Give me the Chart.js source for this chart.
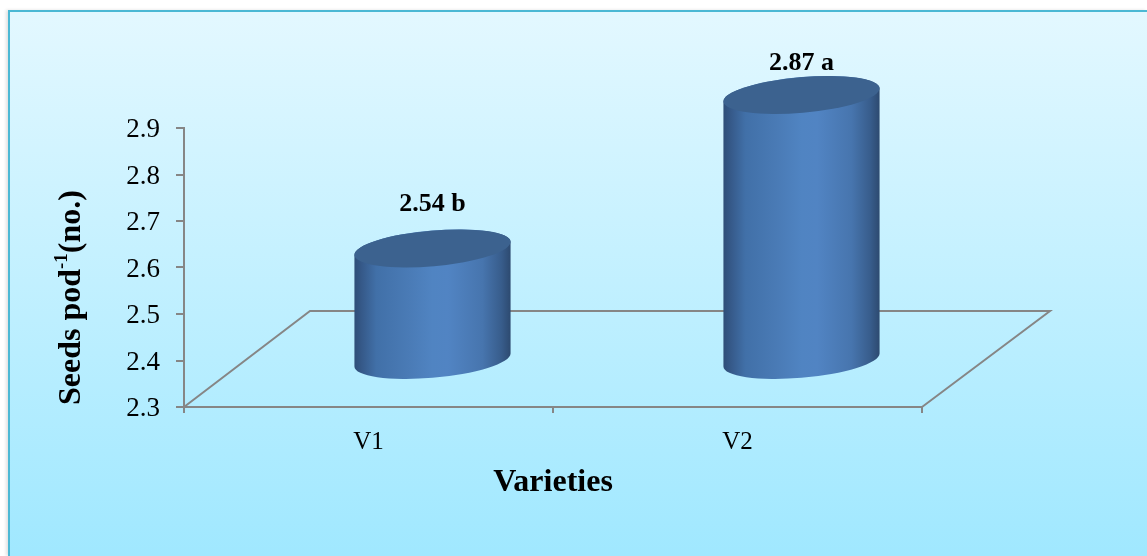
<!DOCTYPE html>
<html>
<head>
<meta charset="utf-8">
<style>
  html, body { margin: 0; padding: 0; background: #fff; overflow: hidden; }
  #frame {
    position: absolute; left: 8px; top: 10px; width: 1139px; height: 546px;
    box-sizing: border-box;
    border-left: 2px solid #4bb8d4; border-top: 2px solid #4bb8d4;
    background: linear-gradient(to bottom, #e3f8ff 0%, #a0e8ff 100%);
    box-shadow: -2px 0 3px rgba(0,0,0,0.12);
  }
  #chart { position: absolute; left: 0; top: 0; }
</style>
<script src="https://cdn.jsdelivr.net/npm/chart.js@4"></script>
</head>
<body>
<div id="frame"></div>
<canvas id="chart" width="1147" height="556"></canvas>
<script>
const categories = ["V1", "V2"];
const seedsPerPod = [2.54, 2.87];
const groupLetters = ["b", "a"];
const yTicks = [2.3, 2.4, 2.5, 2.6, 2.7, 2.8, 2.9];

const serif = "'Liberation Serif', serif";
const axisColor = "#868686";

// depth of the floor, and where the cylinders stand on it
const floorShift = { x: 126, y: -96 };
const barShift = { x: 64, y: -47 };
const labelLift = [44, 32];

// tilted ellipse caps
const capRatio = 0.2273;
const capTilt = -5 * Math.PI / 180;

class CylinderController extends Chart.BarController {
  draw() {
    const ctx = this.chart.ctx;
    const baseY = this.chart.scales.y.getPixelForValue(yTicks[0]) + barShift.y;
    this.getMeta().data.forEach(bar => {
      const rx = bar.width / 2 * 1.004;
      const ry = rx * capRatio;
      const cx = bar.x + barShift.x;
      const topY = bar.y + barShift.y;
      // angle on the ellipse where it reaches its left/right extreme
      const t = Math.atan(-capRatio * Math.tan(capTilt));

      const side = ctx.createLinearGradient(cx - bar.width / 2, 0, cx + bar.width / 2, 0);
      side.addColorStop(0, "#2f4e78");
      side.addColorStop(0.05, "#365a8a");
      side.addColorStop(0.14, "#4170a8");
      side.addColorStop(0.35, "#4a7bb6");
      side.addColorStop(0.5, "#5084c2");
      side.addColorStop(0.6, "#5184c3");
      side.addColorStop(0.82, "#4775ae");
      side.addColorStop(0.94, "#385d8c");
      side.addColorStop(1, "#2d4a70");

      ctx.save();
      ctx.beginPath();
      ctx.ellipse(cx, baseY, rx, ry, capTilt, t, t + Math.PI);
      ctx.ellipse(cx, topY, rx, ry, capTilt, t + Math.PI, t + 2 * Math.PI);
      ctx.closePath();
      ctx.fillStyle = side;
      ctx.fill();

      ctx.beginPath();
      ctx.ellipse(cx, topY, rx, ry, capTilt, 0, 2 * Math.PI);
      ctx.fillStyle = "#3c628f";
      ctx.fill();
      ctx.restore();
    });
  }
}
CylinderController.id = "cylinder";
CylinderController.defaults = Chart.BarController.defaults;
CylinderController.overrides = Chart.BarController.overrides;
Chart.register(CylinderController);

// the open floor behind the x axis
const floorPlugin = {
  id: "floor",
  beforeDatasetsDraw(chart) {
    const { ctx, chartArea: a } = chart;
    ctx.save();
    ctx.strokeStyle = axisColor;
    ctx.lineWidth = 2;
    ctx.beginPath();
    ctx.moveTo(a.left, a.bottom);
    ctx.lineTo(a.left + floorShift.x, a.bottom + floorShift.y);
    ctx.lineTo(a.right + floorShift.x + 2, a.bottom + floorShift.y);
    ctx.lineTo(a.right, a.bottom);
    ctx.stroke();
    ctx.restore();
  }
};

const labelPlugin = {
  id: "valueLabels",
  afterDatasetsDraw(chart) {
    const { ctx } = chart;
    ctx.save();
    ctx.font = "bold 26px " + serif;
    ctx.fillStyle = "#000";
    ctx.textAlign = "center";
    ctx.textBaseline = "middle";
    chart.getDatasetMeta(0).data.forEach((bar, i) => {
      const text = seedsPerPod[i].toFixed(2) + " " + groupLetters[i];
      ctx.fillText(text, bar.x + barShift.x, bar.y + barShift.y - labelLift[i]);
    });
    ctx.restore();
  }
};

// y title needs a superscript, so it is set by hand
const yTitlePlugin = {
  id: "yTitle",
  afterDraw(chart) {
    const { ctx, chartArea: a } = chart;
    const big = "bold 32px " + serif;
    const small = "bold 19px " + serif;
    ctx.save();
    ctx.translate(80, a.bottom - 2);
    ctx.rotate(-Math.PI / 2);
    ctx.fillStyle = "#000";
    ctx.textBaseline = "alphabetic";
    ctx.textAlign = "left";
    let x = 0;
    ctx.font = big;
    ctx.fillText("Seeds pod", 0, 0);
    x += ctx.measureText("Seeds pod").width;
    ctx.font = small;
    ctx.fillText("-1", x, -13);
    x += ctx.measureText("-1").width;
    ctx.font = big;
    ctx.fillText("(no.)", x, 0);
    ctx.restore();
  }
};

new Chart(document.getElementById("chart"), {
  type: "cylinder",
  data: {
    labels: categories,
    datasets: [{
      data: seedsPerPod,
      clip: false,
      categoryPercentage: 1,
      barPercentage: 0.423
    }]
  },
  plugins: [floorPlugin, labelPlugin, yTitlePlugin],
  options: {
    responsive: false,
    animation: false,
    layout: { padding: { left: 124, right: 225, top: 128, bottom: 54 } },
    plugins: { legend: { display: false }, tooltip: { enabled: false } },
    scales: {
      x: {
        offset: true,
        afterFit(scale) { scale.height = 95; },
        grid: {
          offset: true, drawOnChartArea: false, drawTicks: true,
          tickLength: 6, color: axisColor, lineWidth: 2
        },
        border: { color: axisColor, width: 2 },
        ticks: {
          color: "#000", padding: 14, maxRotation: 0,
          font: { family: serif, size: 25 }
        },
        title: {
          display: true, text: "Varieties", color: "#000", padding: 0,
          font: { family: serif, size: 32, weight: "bold" }
        }
      },
      y: {
        min: yTicks[0],
        max: yTicks[yTicks.length - 1],
        afterFit(scale) { scale.width = 60; },
        afterBuildTicks(scale) { scale.ticks = yTicks.map(value => ({ value })); },
        grid: {
          drawOnChartArea: false, tickLength: 8, color: axisColor, lineWidth: 2
        },
        border: { color: axisColor, width: 2 },
        ticks: {
          color: "#000", padding: 16, labelOffset: 2,
          font: { family: serif, size: 27 },
          callback: value => value.toFixed(1)
        }
      }
    }
  }
});
</script>
</body>
</html>
